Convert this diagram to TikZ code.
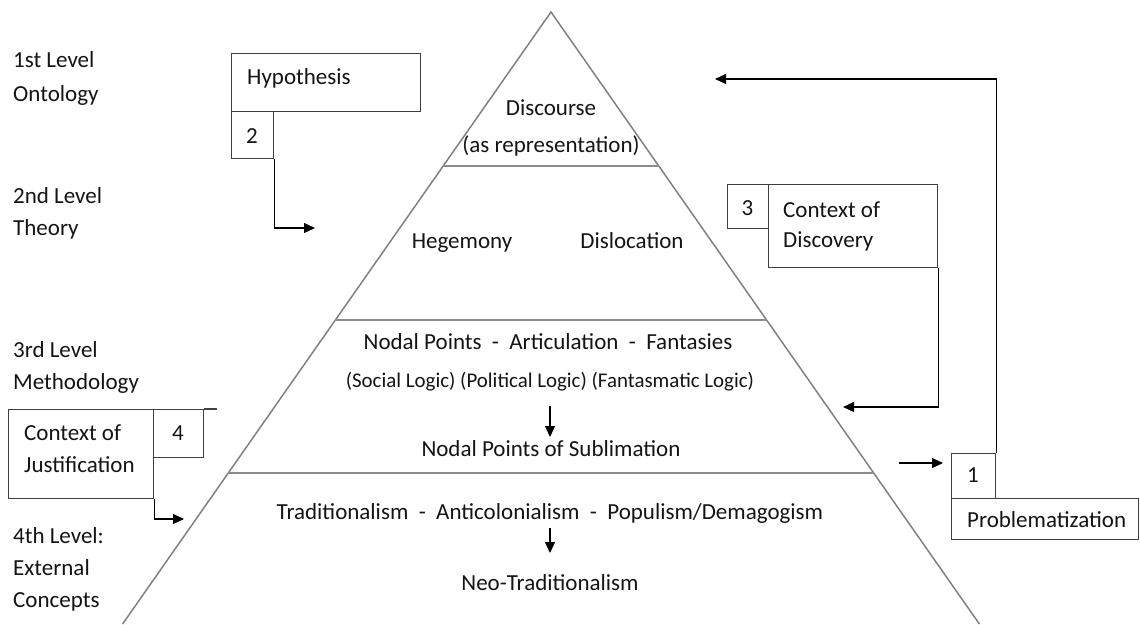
\documentclass[tikz,border=0pt]{standalone}
\usepackage{fontspec}
\setmainfont{Carlito}
\usetikzlibrary{arrows.meta,calc}
\begin{document}
\begin{tikzpicture}[x=1pt,y=-1pt,
  txt/.style={inner sep=0pt, anchor=base, text=black!92, font=\fontsize{23}{27}\selectfont},
  ltxt/.style={txt, anchor=base west},
  small/.style={txt, font=\fontsize{20.9}{25}\selectfont},
  box/.style={draw=black!75, line width=1.1pt, inner sep=0pt, anchor=north west},
  pyr/.style={draw=black!50, line width=1.5pt, line join=miter},
  sep/.style={draw=black!45, line width=2.4pt},
  conn/.style={draw=black, line width=1.2pt, -{Triangle[length=11pt,width=10pt]}},
]
\useasboundingbox (0,0) rectangle (1140,624);
\begin{scope}
\clip (0,0) rectangle (1140,624);
% pyramid
\coordinate (apex) at (551,12);
\coordinate (bl) at (122.6,624);
\coordinate (br) at (979.4,624);
\draw[pyr] (bl) -- (apex) -- (br);
\draw[sep, line width=1.8pt] ($(apex)!0.2516!(bl)$) -- ($(apex)!0.2516!(br)$);
\draw[sep] ($(apex)!0.5033!(bl)$) -- ($(apex)!0.5033!(br)$);
\draw[sep] ($(apex)!0.7528!(bl)$) -- ($(apex)!0.7528!(br)$);
\end{scope}

% level labels
\node[ltxt] (l1a) at (13,67) {1st Level};
\node[ltxt] (l1b) at (13,101) {Ontology};
\node[ltxt] (l2a) at (13,203) {2nd Level};
\node[ltxt] (l2b) at (13,235) {Theory};
\node[ltxt] (l3a) at (13,357) {3rd Level};
\node[ltxt] (l3b) at (13,389) {Methodology};
\node[ltxt] (l4a) at (13,543) {4th Level:};
\node[ltxt] (l4b) at (13,575) {External};
\node[ltxt] (l4c) at (13,607) {Concepts};

% pyramid texts
\node[txt] (disc) at (551,115) {Discourse};
\node[txt] (asrep) at (551,152) {(as representation)};
\node[txt] (heg) at (462,248) {Hegemony};
\node[txt] (dis) at (632,248) {Dislocation};
\node[txt] (nodal) at (548,349) {Nodal Points~~-~~Articulation~~-~~Fantasies};
\node[small] (logic) at (550,387) {(Social Logic) (Political Logic) (Fantasmatic Logic)};
\node[txt] (subl) at (551,456) {Nodal Points of Sublimation};
\node[txt] (trad) at (550,519) {Traditionalism~~-~~Anticolonialism~~-~~Populism/Demagogism};
\node[txt] (neo) at (550,590) {Neo-Traditionalism};
\coordinate (a3s) at (550,406);
\coordinate (a3e) at (550,437);
\coordinate (a4s) at (550,528);
\coordinate (a4e) at (550,553);
\draw[conn] (a3s) -- (a3e);
\draw[conn] (a4s) -- (a4e);

% boxes
\node[box, minimum width=189pt, minimum height=58pt] (hyp) at (231,53) {};
\node[ltxt] (hypt) at (247,84) {Hypothesis};
\node[box, minimum width=42pt, minimum height=47pt] (b2) at (231,111) {};
\node[txt] (b2t) at (252,143) {2};

\node[box, minimum width=41pt, minimum height=44pt] (b3n) at (727,184) {};
\node[txt] (b3nt) at (747.5,215) {3};
\node[box, minimum width=169pt, minimum height=83pt] (b3) at (768,184) {};
\node[ltxt] (b3t1) at (783,217) {Context of};
\node[ltxt] (b3t2) at (783,247) {Discovery};

\node[box, minimum width=145pt, minimum height=89pt] (b4) at (8,409) {};
\node[ltxt] (b4t1) at (24,440) {Context of};
\node[ltxt] (b4t2) at (24,472) {Justification};
\node[box, minimum width=50pt, minimum height=48pt] (b4n) at (153,409) {};
\node[txt] (b4nt) at (178,440) {4};
\coordinate (b4x) at (217,409);
\draw[draw=black!75, line width=1.1pt] (b4n.north east) -- (b4x);

\node[box, minimum width=44pt, minimum height=45pt] (b1n) at (951,453) {};
\node[txt] (b1nt) at (973,482) {1};
\node[box, minimum width=187pt, minimum height=41pt] (b1) at (951,498) {};
\node[ltxt] (b1t) at (967,527) {Problematization};

% connectors
\coordinate (t2) at (315,228);
\coordinate (t3) at (843,407);
\coordinate (t4) at (184,519);
\coordinate (t1) at (715,79);
\coordinate (s1) at (899,463);
\coordinate (e1) at (943,463);
\draw[conn] (b2.south east) |- (t2);
\draw[conn] (b3.south east) |- (t3);
\draw[conn] (b4.south east) |- (t4);
\draw[conn] (b1n.north east) |- (t1);
\draw[conn] (s1) -- (e1);
\end{tikzpicture}
\end{document}
